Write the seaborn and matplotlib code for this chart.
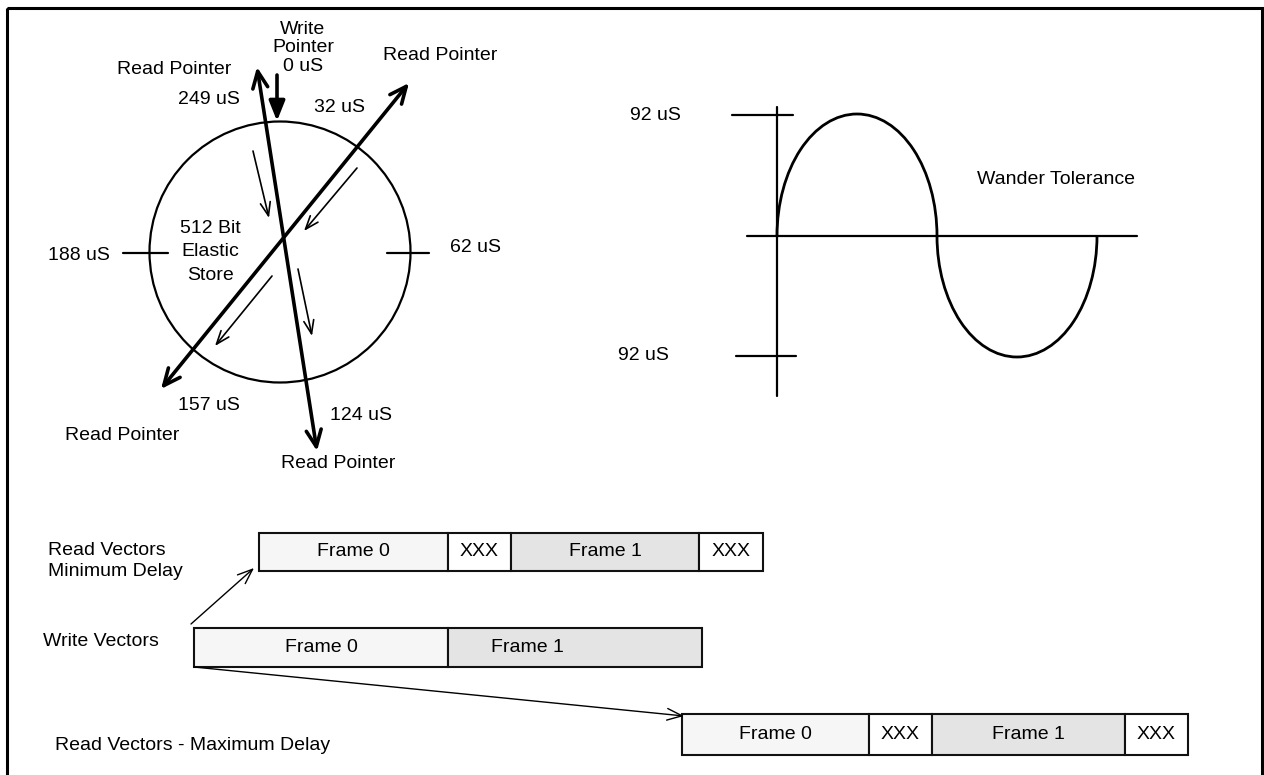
import matplotlib
matplotlib.use("Agg")
import matplotlib.pyplot as plt
from matplotlib.patches import Circle, Arc, Rectangle
import seaborn as sns

# ---------------- data ----------------
circle_labels = ["0 uS", "32 uS", "62 uS", "124 uS", "157 uS", "188 uS", "249 uS"]
wander_labels = ["92 uS", "92 uS"]
row_titles = ["Read Vectors\nMinimum Delay", "Write Vectors", "Read Vectors - Maximum Delay"]

read_min_labels = ["Frame 0", "XXX", "Frame 1", "XXX"]
read_min_edges = [259, 448, 511, 699, 763]
write_labels = ["Frame 0", "Frame 1"]
write_edges = [194, 448, 702]
read_max_labels = ["Frame 0", "XXX", "Frame 1", "XXX"]
read_max_edges = [682, 869, 932, 1125, 1188]
seg_fills = {"Frame 0": "#f6f6f6", "Frame 1": "#e4e4e4", "XXX": "#ffffff"}

# ---------------- style ----------------
sns.set_theme(style="white")
plt.rcParams["font.family"] = ["Liberation Sans", "DejaVu Sans"]
plt.rcParams["text.color"] = "black"
FS = 14

fig = plt.figure(figsize=(12.64, 7.75), dpi=100)
ax = fig.add_axes([0, 0, 1, 1])
ax.set_xlim(0, 1264)
ax.set_ylim(775, 0)
ax.axis("off")

K = "black"

# outer border
ax.add_patch(Rectangle((7, 8), 1255, 800, fill=False, lw=2.2, ec=K))

# ---------------- elastic store circle ----------------
ax.add_patch(Circle((280, 252), 130.5, fill=False, lw=1.6, ec=K))
ax.plot([123, 168], [253, 253], color=K, lw=1.6)
ax.plot([387, 429], [253, 253], color=K, lw=1.6)

def arrow(p_from, p_to, style, lw, hl, hw):
    ax.annotate("", xy=p_to, xytext=p_from,
                arrowprops=dict(arrowstyle=f"{style},head_length={hl},head_width={hw}",
                                lw=lw, color=K, shrinkA=0, shrinkB=0))

# write pointer
arrow((277, 75), (277, 121), "-|>", 2.6, 1.0, 0.4)
# read pointers (double headed)
arrow((317, 451), (257, 67), "<->", 2.6, 1.0, 0.45)
arrow((161, 389), (409, 83), "<->", 2.6, 1.0, 0.45)
# inner direction arrows
arrow((253, 151), (269, 218), "->", 1.2, 0.8, 0.3)
arrow((357, 168), (304, 231), "->", 1.2, 0.8, 0.3)
arrow((272, 276), (215, 346), "->", 1.2, 0.8, 0.3)
arrow((298, 269), (312, 336), "->", 1.2, 0.8, 0.3)

ax.text(303, 48, "Write\nPointer\n" + circle_labels[0], ha="center", va="center",
        fontsize=FS, linespacing=1.15)
ax.text(440, 55, "Read Pointer", ha="center", va="center", fontsize=FS)
ax.text(174, 70, "Read Pointer", ha="center", va="center", fontsize=FS)
ax.text(122, 436, "Read Pointer", ha="center", va="center", fontsize=FS)
ax.text(338, 463, "Read Pointer", ha="center", va="center", fontsize=FS)
ax.text(340, 108, circle_labels[1], ha="center", va="center", fontsize=FS)
ax.text(476, 247, circle_labels[2], ha="center", va="center", fontsize=FS)
ax.text(361, 416, circle_labels[3], ha="center", va="center", fontsize=FS)
ax.text(209, 405, circle_labels[4], ha="center", va="center", fontsize=FS)
ax.text(79, 255, circle_labels[5], ha="center", va="center", fontsize=FS)
ax.text(209, 100, circle_labels[6], ha="center", va="center", fontsize=FS)
ax.text(210, 252, "512 Bit\nElastic\nStore", ha="center", va="center",
        fontsize=FS, linespacing=1.48)

# ---------------- wander tolerance ----------------
ax.plot([777, 777], [107, 396], color=K, lw=1.6)
ax.plot([747, 1137], [236, 236], color=K, lw=1.6)
ax.plot([732, 793], [115, 115], color=K, lw=1.6)
ax.plot([736, 796], [356, 356], color=K, lw=1.6)
ax.add_patch(Arc((857, 236), 160, 244, theta1=180, theta2=360, lw=2.0, color=K))
ax.add_patch(Arc((1017, 236), 160, 242, theta1=0, theta2=180, lw=2.0, color=K))
ax.text(655, 115, wander_labels[0], ha="center", va="center", fontsize=FS)
ax.text(643, 356, wander_labels[1], ha="center", va="center", fontsize=FS)
ax.text(1056, 179, "Wander Tolerance", ha="center", va="center", fontsize=FS)

# ---------------- frame vectors ----------------
def frame_row(labels, edges, ycen, height, text_x=None):
    lefts = edges[:-1]
    widths = [b - a for a, b in zip(edges[:-1], edges[1:])]
    colors = [seg_fills[l] for l in labels]
    ax.barh([ycen] * len(labels), widths, left=lefts, height=height,
            color=colors, edgecolor="#111111", linewidth=1.5)
    for i, (l, a, w) in enumerate(zip(labels, lefts, widths)):
        tx = a + w / 2 if text_x is None or text_x[i] is None else text_x[i]
        ax.text(tx, ycen, l, ha="center", va="center", fontsize=FS)

frame_row(read_min_labels, read_min_edges, 552, 38)
frame_row(write_labels, write_edges, 647, 39, text_x=[None, 527])
frame_row(read_max_labels, read_max_edges, 734.5, 41)

ax.text(48, 561, row_titles[0], ha="left", va="center", fontsize=FS, linespacing=1.38)
ax.text(43, 642, row_titles[1], ha="left", va="center", fontsize=FS)
ax.text(55, 745, row_titles[2], ha="left", va="center", fontsize=FS)

arrow((191, 624), (254, 568), "->", 1.0, 0.9, 0.35)
arrow((194, 667), (684, 716), "->", 1.0, 0.9, 0.35)

fig.savefig("out.png", dpi=100)
